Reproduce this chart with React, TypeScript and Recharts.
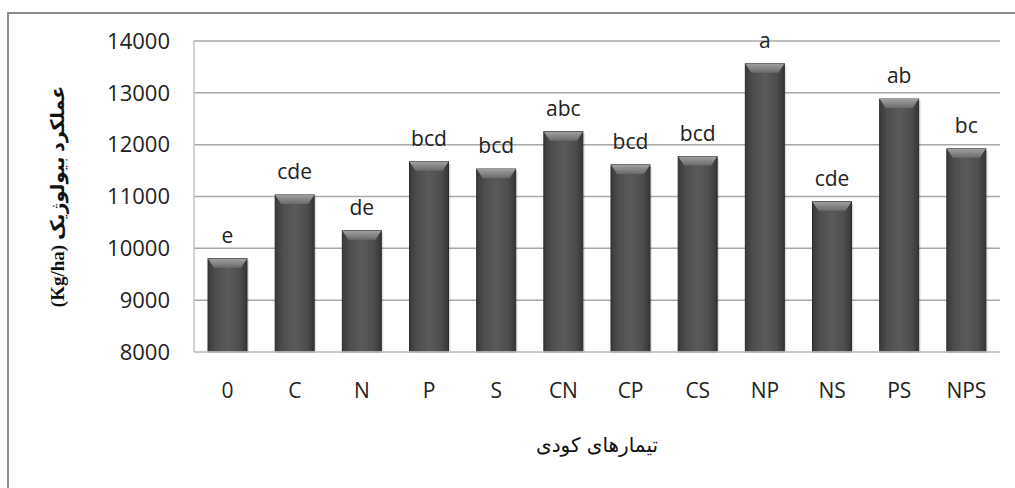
import { ComposedChart, Bar, XAxis, YAxis, CartesianGrid, LabelList } from 'recharts';

const treatments = ['0', 'C', 'N', 'P', 'S', 'CN', 'CP', 'CS', 'NP', 'NS', 'PS', 'NPS'];
const yieldValues = [9800, 11030, 10340, 11670, 11530, 12250, 11610, 11770, 13560, 10900, 12880, 11920];
const groups = ['e', 'cde', 'de', 'bcd', 'bcd', 'abc', 'bcd', 'bcd', 'a', 'cde', 'ab', 'bc'];
const yTicks = [8000, 9000, 10000, 11000, 12000, 13000, 14000];

const data = treatments.map((t, i) => ({ name: t, value: yieldValues[i], group: groups[i] }));

const FONT = '"Open Sans", "DejaVu Sans", sans-serif';

function BevelBar(props: any) {
  const { x, y, width, height } = props;
  if (height <= 0) return null;
  const b = Math.min(9, height);
  const s = 6;
  return (
    <g>
      <rect x={x + 2} y={y + 2} width={width} height={height - 2} fill="#000" opacity={0.12} />
      <rect x={x} y={y} width={width} height={height} fill="url(#barBody)" stroke="#2b2b2b" strokeWidth={1} />
      <polygon
        points={`${x},${y} ${x + width},${y} ${x + width - s},${y + b} ${x + s},${y + b}`}
        fill="url(#barTop)"
      />
    </g>
  );
}

function YTitle(props: any) {
  const { viewBox } = props;
  const cx = 60;
  const cy = viewBox.y + viewBox.height / 2;
  return (
    <text
      x={cx}
      y={cy}
      transform={`rotate(-90 ${cx} ${cy})`}
      textAnchor="middle"
      dominantBaseline="middle"
      fontFamily='"Liberation Serif", "DejaVu Sans", serif'
      fontWeight="bold"
      fontSize={19}
      fill="#111"
    >
      (Kg/ha) عملکرد بیولوژیک
    </text>
  );
}

function XTitle(props: any) {
  const { viewBox } = props;
  const cx = viewBox.x + viewBox.width / 2;
  return (
    <text
      x={cx}
      y={452}
      textAnchor="middle"
      fontFamily='"DejaVu Sans", sans-serif'
      fontSize={20}
      fill="#111"
    >
      تیمارهای کودی
    </text>
  );
}

export default function App() {
  return (
    <div style={{ position: 'absolute', left: 0, top: 0, width: 1015, height: 488, background: '#fff', overflow: 'hidden' }}>
      <div
        style={{
          position: 'absolute',
          left: 7,
          top: 12,
          width: 1100,
          height: 600,
          borderLeft: '2px solid #8c8c8c',
          borderTop: '2px solid #8c8c8c',
        }}
      />
      <ComposedChart
        width={1015}
        height={488}
        data={data}
        margin={{ top: 41, right: 15, bottom: 0, left: 0 }}
        style={{ position: 'absolute', left: 0, top: 0 }}
      >
        <defs>
          <linearGradient id="barBody" x1="0" y1="0" x2="1" y2="0">
            <stop offset="0%" stopColor="#3a3a3a" />
            <stop offset="20%" stopColor="#4e4e4e" />
            <stop offset="50%" stopColor="#5a5a5a" />
            <stop offset="80%" stopColor="#4e4e4e" />
            <stop offset="100%" stopColor="#363636" />
          </linearGradient>
          <linearGradient id="barTop" x1="0" y1="0" x2="0" y2="1">
            <stop offset="0%" stopColor="#a0a0a0" />
            <stop offset="100%" stopColor="#6a6a6a" />
          </linearGradient>
        </defs>
        <CartesianGrid vertical={false} stroke="#a8a8a8" strokeWidth={1.5} />
        <XAxis
          dataKey="name"
          height={136}
          tickSize={0}
          tickMargin={31}
          axisLine={{ stroke: '#cfcfcf', strokeWidth: 1.5 }}
          tick={{ fontSize: 21, fill: '#222', fontFamily: FONT }}
          label={{ content: XTitle }}
        />
        <YAxis
          width={194}
          domain={[8000, 14000]}
          ticks={yTicks}
          interval={0}
          tickSize={0}
          tickMargin={24}
          axisLine={{ stroke: '#c4c4c4', strokeWidth: 1.5 }}
          tick={{ fontSize: 22, fill: '#222', fontFamily: FONT }}
          label={{ content: YTitle }}
        />
        <Bar dataKey="value" barSize={39} shape={BevelBar} isAnimationActive={false}>
          <LabelList
            dataKey="group"
            position="top"
            offset={16}
            style={{ fontSize: 21, fill: '#222', fontFamily: FONT }}
          />
        </Bar>
      </ComposedChart>
    </div>
  );
}
